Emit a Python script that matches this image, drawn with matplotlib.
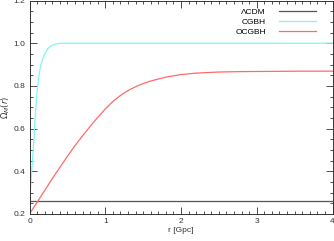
import matplotlib
matplotlib.use("Agg")
import matplotlib.pyplot as plt
from matplotlib.ticker import MultipleLocator

plt.rcParams['font.family'] = ['Liberation Sans', 'DejaVu Sans']

# Data
lcdm_r = [0.0, 4.0]
lcdm_v = [0.262, 0.262]

cgbh_r = [0.0, 0.01, 0.03, 0.05, 0.08, 0.1, 0.12, 0.15, 0.2, 0.25, 0.3, 0.38, 0.5, 1.0, 2.0, 3.0, 4.0]
cgbh_v = [0.262, 0.30, 0.41, 0.50, 0.68, 0.77, 0.84, 0.90, 0.95, 0.978, 0.991, 0.999, 1.0, 1.0, 1.0, 1.0, 1.0]

ocgbh_r = [0.0, 0.1, 0.2, 0.3, 0.4, 0.5, 0.6, 0.7, 0.8, 0.9, 1.0, 1.1, 1.2, 1.3, 1.4, 1.5, 1.6,
           1.8, 2.0, 2.2, 2.5, 2.8, 3.2, 3.6, 4.0]
ocgbh_v = [0.2, 0.255, 0.31, 0.365, 0.418, 0.47, 0.52, 0.566, 0.61, 0.652, 0.692, 0.727, 0.755,
           0.778, 0.796, 0.811, 0.823, 0.841, 0.853, 0.86, 0.865, 0.867, 0.868, 0.869, 0.869]

fig = plt.figure(figsize=(3.34, 2.41), dpi=100)
ax = fig.add_axes([29.5/334, 1 - 214/241, (332.5 - 29.5)/334, (214 - 0.5)/241])

ax.plot(lcdm_r, lcdm_v, color='#555555', lw=0.9, label='ΛCDM')
ax.plot(cgbh_r, cgbh_v, color='#7ff5f5', lw=0.9, label='CGBH')
ax.plot(ocgbh_r, ocgbh_v, color='#ff6a6a', lw=0.9, label='OCGBH')

ax.set_xlim(0, 4)
ax.set_ylim(0.2, 1.2)
ax.xaxis.set_minor_locator(MultipleLocator(0.1))
ax.yaxis.set_minor_locator(MultipleLocator(0.05))
ax.tick_params(which='both', direction='in', top=True, right=True, labelsize=6, colors='#333333', width=0.6)
ax.tick_params(which='major', length=5, pad=3)
ax.tick_params(which='minor', length=2.5)
ax.set_xticks([0, 1, 2, 3, 4])
ax.set_xticklabels(['0', '1', '2', '3', '4'])
ax.set_yticks([0.2, 0.4, 0.6, 0.8, 1.0, 1.2])
ax.set_yticklabels(['0.2', '0.4', '0.6', '0.8', '1.0', '1.2'])
for s in ax.spines.values():
    s.set_linewidth(0.7)
    s.set_color('#333333')

ax.set_xlabel('r [Gpc]', fontsize=6, labelpad=1, color='#333333')
ax.set_ylabel(r'$\Omega_M(r)$', fontsize=6, labelpad=1, color='#333333')

leg = ax.legend(loc='upper right', frameon=False, fontsize=6, markerfirst=False,
                handlelength=4.5, handletextpad=1.5, labelspacing=0.25,
                borderaxespad=0.3, bbox_to_anchor=(0.965, 0.99))

fig.savefig('out.png', dpi=100)
